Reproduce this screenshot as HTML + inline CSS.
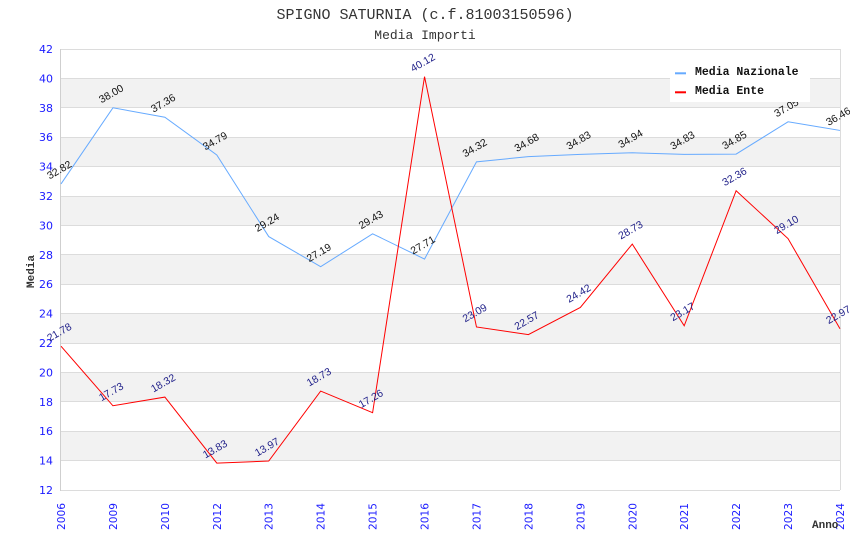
<!DOCTYPE html>
<html><head><meta charset="utf-8"><style>
html,body{margin:0;padding:0;background:#fff;}
svg{display:block;}
.t{font-family:"DejaVu Sans","Liberation Sans",sans-serif;}
.n{font-family:"Liberation Sans","DejaVu Sans",sans-serif;font-size:10.5px;fill:#111;}
.e{font-family:"Liberation Sans","DejaVu Sans",sans-serif;font-size:10.5px;fill:#22228a;}
</style></head><body>
<svg width="850" height="550" viewBox="0 0 850 550" xmlns="http://www.w3.org/2000/svg">
<rect width="850" height="550" fill="#fff"/>
<!-- bands -->
<g fill="#f2f2f2">
<rect x="61" y="78.4" width="779" height="29.4"/>
<rect x="61" y="137.2" width="779" height="29.4"/>
<rect x="61" y="196" width="779" height="29.4"/>
<rect x="61" y="254.8" width="779" height="29.4"/>
<rect x="61" y="313.6" width="779" height="29.4"/>
<rect x="61" y="372.4" width="779" height="29.4"/>
<rect x="61" y="431.2" width="779" height="29.4"/>
</g>
<g stroke="#dcdcdc" stroke-width="1">
<line x1="61" x2="840" y1="49.5" y2="49.5"/>
<line x1="61" x2="840" y1="78.5" y2="78.5"/>
<line x1="61" x2="840" y1="107.5" y2="107.5"/>
<line x1="61" x2="840" y1="137.5" y2="137.5"/>
<line x1="61" x2="840" y1="166.5" y2="166.5"/>
<line x1="61" x2="840" y1="196.5" y2="196.5"/>
<line x1="61" x2="840" y1="225.5" y2="225.5"/>
<line x1="61" x2="840" y1="254.5" y2="254.5"/>
<line x1="61" x2="840" y1="284.5" y2="284.5"/>
<line x1="61" x2="840" y1="313.5" y2="313.5"/>
<line x1="61" x2="840" y1="343.5" y2="343.5"/>
<line x1="61" x2="840" y1="372.5" y2="372.5"/>
<line x1="61" x2="840" y1="401.5" y2="401.5"/>
<line x1="61" x2="840" y1="431.5" y2="431.5"/>
<line x1="61" x2="840" y1="460.5" y2="460.5"/>
<line x1="61" x2="840" y1="490.5" y2="490.5"/>
<line x1="840.5" x2="840.5" y1="49" y2="490"/>
</g>
<line x1="60.5" x2="60.5" y1="49" y2="491" stroke="#cfcfcf"/>
<!-- y tick labels -->
<g class="t" font-size="11" fill="#1a1aff" text-anchor="end">
<text x="53" y="53">42</text>
<text x="53" y="82.4">40</text>
<text x="53" y="111.8">38</text>
<text x="53" y="141.2">36</text>
<text x="53" y="170.6">34</text>
<text x="53" y="200">32</text>
<text x="53" y="229.4">30</text>
<text x="53" y="258.8">28</text>
<text x="53" y="288.2">26</text>
<text x="53" y="317.6">24</text>
<text x="53" y="347">22</text>
<text x="53" y="376.4">20</text>
<text x="53" y="405.8">18</text>
<text x="53" y="435.2">16</text>
<text x="53" y="464.6">14</text>
<text x="53" y="494">12</text>
</g>
<!-- x tick labels -->
<g class="t" font-size="10.6" fill="#1a1aff" text-anchor="start">
<text transform="translate(65,530) rotate(-90)">2006</text>
<text transform="translate(116.9,530) rotate(-90)">2009</text>
<text transform="translate(168.9,530) rotate(-90)">2010</text>
<text transform="translate(220.8,530) rotate(-90)">2012</text>
<text transform="translate(272.7,530) rotate(-90)">2013</text>
<text transform="translate(324.7,530) rotate(-90)">2014</text>
<text transform="translate(376.6,530) rotate(-90)">2015</text>
<text transform="translate(428.5,530) rotate(-90)">2016</text>
<text transform="translate(480.5,530) rotate(-90)">2017</text>
<text transform="translate(532.4,530) rotate(-90)">2018</text>
<text transform="translate(584.3,530) rotate(-90)">2019</text>
<text transform="translate(636.3,530) rotate(-90)">2020</text>
<text transform="translate(688.2,530) rotate(-90)">2021</text>
<text transform="translate(740.1,530) rotate(-90)">2022</text>
<text transform="translate(792.1,530) rotate(-90)">2023</text>
<text transform="translate(844,530) rotate(-90)">2024</text>
</g>
<!-- series -->
<polyline fill="none" stroke="#66aaff" stroke-width="1" points="61,183.95 112.93,107.8 164.87,117.21 216.8,154.99 268.73,236.57 320.67,266.71 372.6,233.78 424.53,259.06 476.47,161.9 528.4,156.6 580.33,154.4 632.27,152.78 684.2,154.4 736.13,154.1 788.07,121.77 840,130.44"/>
<polyline fill="none" stroke="#ff0000" stroke-width="1" points="61,346.23 112.93,405.77 164.87,397.1 216.8,463.1 268.73,461.04 320.67,391.07 372.6,412.68 424.53,76.64 476.47,326.98 528.4,334.62 580.33,307.43 632.27,244.07 684.2,325.8 736.13,190.71 788.07,238.63 840,328.74"/>
<!-- national labels -->
<g class="n" text-anchor="middle">
<text transform="translate(61,172.95) rotate(-30)">32.82</text>
<text transform="translate(112.93,96.8) rotate(-30)">38.00</text>
<text transform="translate(164.87,106.21) rotate(-30)">37.36</text>
<text transform="translate(216.8,143.99) rotate(-30)">34.79</text>
<text transform="translate(268.73,225.57) rotate(-30)">29.24</text>
<text transform="translate(320.67,255.71) rotate(-30)">27.19</text>
<text transform="translate(372.6,222.78) rotate(-30)">29.43</text>
<text transform="translate(424.53,248.06) rotate(-30)">27.71</text>
<text transform="translate(476.47,150.9) rotate(-30)">34.32</text>
<text transform="translate(528.4,145.6) rotate(-30)">34.68</text>
<text transform="translate(580.33,143.4) rotate(-30)">34.83</text>
<text transform="translate(632.27,141.78) rotate(-30)">34.94</text>
<text transform="translate(684.2,143.4) rotate(-30)">34.83</text>
<text transform="translate(736.13,143.1) rotate(-30)">34.85</text>
<text transform="translate(788.07,110.77) rotate(-30)">37.05</text>
<text transform="translate(840,119.44) rotate(-30)">36.46</text>
</g>
<!-- ente labels -->
<g class="e" text-anchor="middle">
<text transform="translate(61,335.23) rotate(-30)">21.78</text>
<text transform="translate(112.93,394.77) rotate(-30)">17.73</text>
<text transform="translate(164.87,386.1) rotate(-30)">18.32</text>
<text transform="translate(216.8,452.1) rotate(-30)">13.83</text>
<text transform="translate(268.73,450.04) rotate(-30)">13.97</text>
<text transform="translate(320.67,380.07) rotate(-30)">18.73</text>
<text transform="translate(372.6,401.68) rotate(-30)">17.26</text>
<text transform="translate(424.53,65.64) rotate(-30)">40.12</text>
<text transform="translate(476.47,315.98) rotate(-30)">23.09</text>
<text transform="translate(528.4,323.62) rotate(-30)">22.57</text>
<text transform="translate(580.33,296.43) rotate(-30)">24.42</text>
<text transform="translate(632.27,233.07) rotate(-30)">28.73</text>
<text transform="translate(684.2,314.8) rotate(-30)">23.17</text>
<text transform="translate(736.13,179.71) rotate(-30)">32.36</text>
<text transform="translate(788.07,227.63) rotate(-30)">29.10</text>
<text transform="translate(840,317.74) rotate(-30)">22.97</text>
</g>
<!-- legend -->
<rect x="670" y="60" width="140" height="42" fill="#fff"/>
<rect x="675" y="72.3" width="11" height="2" fill="#66aaff"/>
<rect x="675" y="91.3" width="11" height="2" fill="#ff0000"/>
<g font-family="'Liberation Mono','DejaVu Sans Mono',monospace" font-weight="bold" font-size="11.5" fill="#111">
<text x="695" y="75">Media Nazionale</text>
<text x="695" y="94">Media Ente</text>
</g>
<!-- titles -->
<g font-family="'Liberation Mono','DejaVu Sans Mono',monospace" fill="#333" text-anchor="middle">
<text x="425" y="19" font-size="15">SPIGNO SATURNIA (c.f.81003150596)</text>
<text x="425" y="39" font-size="13">Media Importi</text>
</g>
<g font-family="'Liberation Mono','DejaVu Sans Mono',monospace" font-weight="bold" font-size="11" fill="#333">
<text transform="translate(34,288) rotate(-90)">Media</text>
<text x="812" y="528">Anno</text>
</g>
</svg>
</body></html>
